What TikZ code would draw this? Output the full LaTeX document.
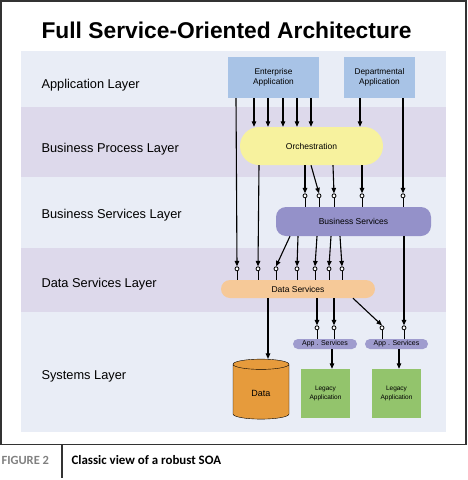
\documentclass[tikz,border=0pt]{standalone}
\usepackage{fontspec}
\setmainfont{Liberation Sans}
\newfontfamily\capfont{Carlito}
\usetikzlibrary{arrows.meta,positioning,calc,shapes.geometric}

\definecolor{bandlight}{HTML}{E9EDF6}
\definecolor{banddark}{HTML}{DDD9EB}
\definecolor{appblue}{HTML}{A8C3E6}
\definecolor{orchyellow}{HTML}{F7F29E}
\definecolor{bspurple}{HTML}{9491C9}
\definecolor{dspeach}{HTML}{F6C998}
\definecolor{legacygreen}{HTML}{93C46C}
\definecolor{dataorange}{HTML}{E69B3C}

% lollipop connector: source node, source x, target node, target x
\newcommand{\plug}[4]{%
  \path (#3.north -| #4,0) ++(0,-11) node[lolli] (pin) {};
  \draw[link] (#1.south -| #2,0) -- (pin.north);
  \draw[line width=1pt] (pin.south) -- (#3.north -| #4,0);}

\begin{document}
\begin{tikzpicture}[x=1pt,y=-1pt,
  layer/.style={anchor=west,font=\fontsize{12.8}{14}\selectfont},
  appbox/.style={fill=appblue,align=center,font=\fontsize{8.3}{10}\selectfont},
  pill/.style={align=center,font=\fontsize{8.5}{10}\selectfont},
  legbox/.style={fill=legacygreen,minimum width=49pt,minimum height=49pt,align=center,font=\fontsize{6.5}{8.5}\selectfont},
  lolli/.style={circle,draw,line width=0.8pt,fill=white,inner sep=0pt,minimum size=4pt},
  link/.style={line width=1.1pt,-{Triangle[length=5.5pt,width=4.5pt]}}]
\useasboundingbox (0,0) rectangle (468,480);
% layer bands
\fill[bandlight] (21,51) rectangle (446,107);
\fill[banddark] (21,107) rectangle (446,177);
\fill[bandlight] (21,177) rectangle (446,248);
\fill[banddark] (21,248) rectangle (446,312);
\fill[bandlight] (21,312) rectangle (446,432);
\draw[line width=1.5pt,black!80] (0.75,0.75) rectangle (466,444.5);
\node[anchor=west,font=\bfseries\fontsize{22.8}{26}\selectfont] (title) at (38,30) {Full Service-Oriented Architecture};
\node[layer] (lapp) at (38,85) {Application Layer};
\node[layer] (lbp) at (38,149) {Business Process Layer};
\node[layer] (lbs) at (38,215) {Business Services Layer};
\node[layer] (lds) at (38,284) {Data Services Layer};
\node[layer] (lsys) at (38,376) {Systems Layer};
% boxes
\node[appbox,minimum width=91pt,minimum height=41pt] (ent) at (273.5,77.5) {Enterprise\\Application};
\node[appbox,minimum width=71pt,minimum height=41pt] (dept) at (379.5,77.5) {Departmental\\Application};
\node[pill,fill=orchyellow,rounded corners=19pt,minimum width=143pt,minimum height=38pt] (orch) at (311.5,146) {Orchestration};
\node[pill,fill=bspurple,rounded corners=10pt,minimum width=155pt,minimum height=29pt] (bs) at (353.5,221.5) {Business Services};
\node[pill,fill=dspeach,rounded corners=9pt,minimum width=154pt,minimum height=18pt,inner sep=0pt] (ds) at (298,289) {Data Services};
\node[pill,fill=bspurple!90!white,rounded corners=5pt,minimum width=64pt,minimum height=10pt,inner sep=0pt,font=\fontsize{7}{8}\selectfont] (app1) at (325,344) {App . Services};
\node[pill,fill=bspurple!90!white,rounded corners=5pt,minimum width=63pt,minimum height=10pt,inner sep=0pt,font=\fontsize{7}{8}\selectfont] (app2) at (396.5,344) {App . Services};
\node[legbox] (leg1) at (325.5,393.5) {Legacy\\Application};
\node[legbox] (leg2) at (396.5,393.5) {Legacy\\Application};
\node[cylinder,shape border rotate=90,draw,fill=dataorange,aspect=0.4,minimum width=56pt,minimum height=60pt,font=\fontsize{9}{10}\selectfont] (data) at (261,393) {Data};
% plain arrows
\foreach \x in {254,268,283,297,311} \draw[link] (ent.south -| \x,0) -- (orch.north -| \x,0);
\draw[link] (dept.south -| 360,0) -- (orch.north -| 360,0);
\draw[link] (ds.south -| 268,0) -- (data.top -| 268,0);
\draw[link] (app1.south -| 332,0) -- (leg1.north -| 332,0);
\draw[link] (app2.south -| 399,0) -- (leg2.north -| 399,0);
% lollipop links
\plug{ent}{236}{ds}{237}
\plug{dept}{403}{bs}{403}
\plug{orch}{259}{ds}{258}
\plug{orch}{305}{bs}{305}
\plug{orch}{311}{bs}{319}
\plug{orch}{333}{bs}{334}
\plug{orch}{362}{bs}{362}
\plug{bs}{290}{ds}{276}
\plug{bs}{298}{ds}{297}
\plug{bs}{317}{ds}{315}
\plug{bs}{331}{ds}{329}
\plug{bs}{340}{ds}{342}
\plug{bs}{404}{app2}{404}
\plug{ds}{317}{app1}{317}
\plug{ds}{334}{app1}{334}
\plug{ds}{353}{app2}{382}
% caption
\node[anchor=west,text=black!50,font=\capfont\bfseries\fontsize{12.5}{14}\selectfont] (fig) at (-2,460) {FIGURE 2};
\draw[line width=1.5pt,black!80] (62,444.5) -- (62,478);
\node[anchor=west,font=\capfont\bfseries\fontsize{12.9}{14}\selectfont] (cap) at (68,460) {Classic view of a robust SOA};
\end{tikzpicture}
\end{document}
